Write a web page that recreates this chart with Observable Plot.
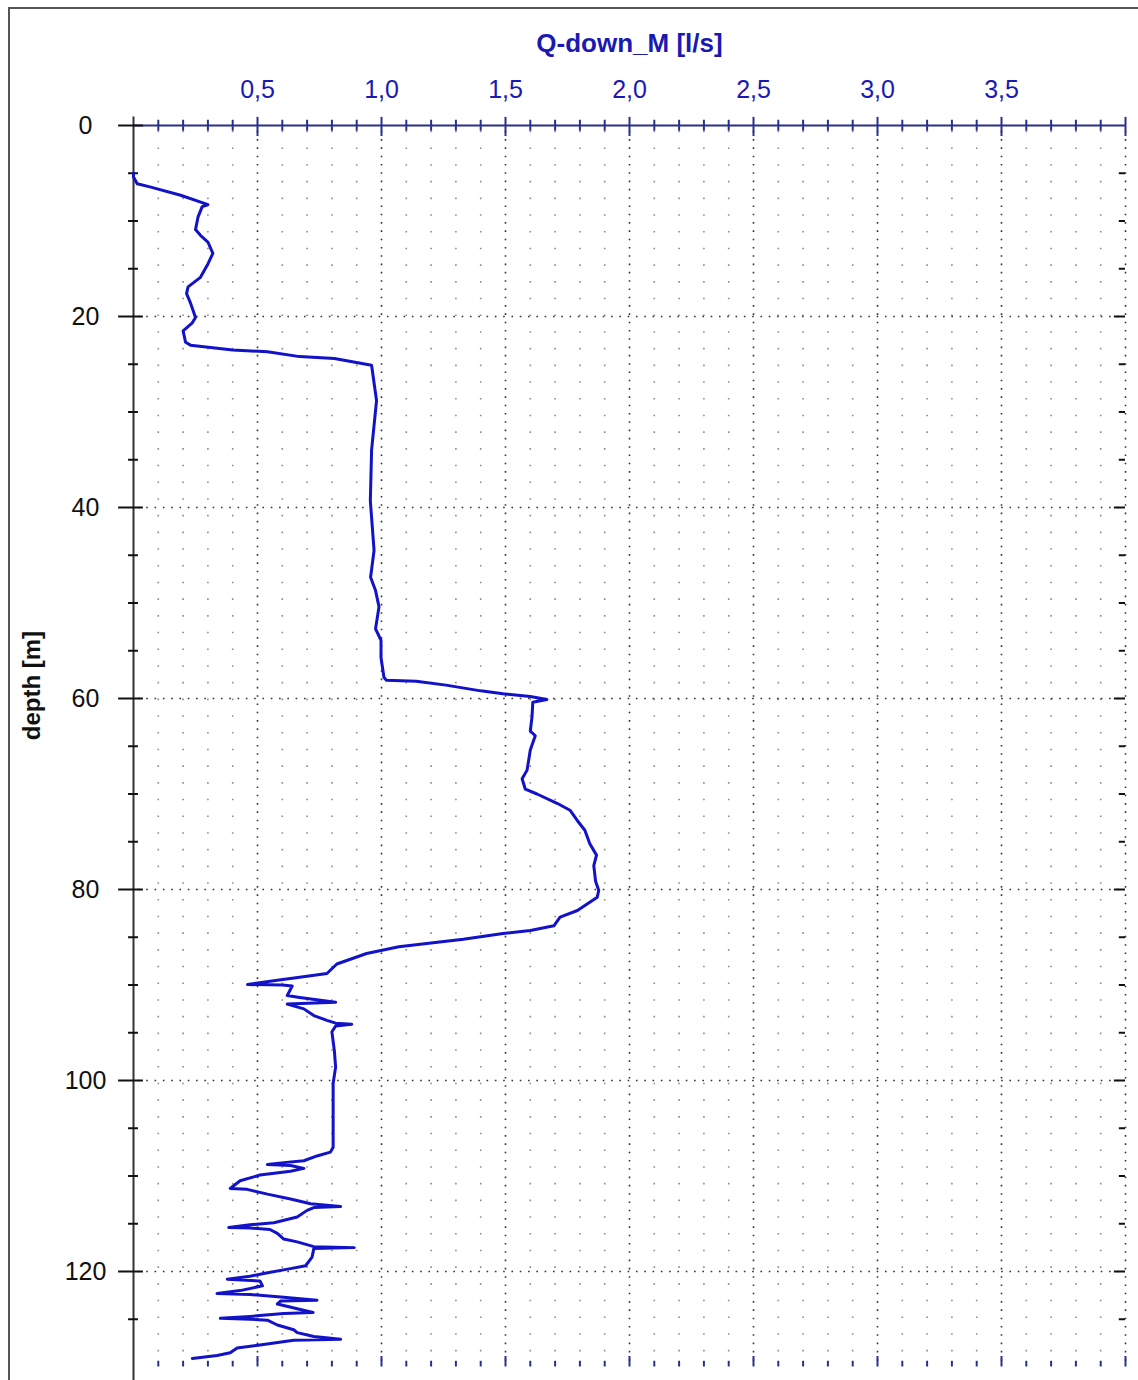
<!DOCTYPE html>
<html><head><meta charset="utf-8">
<script src="https://cdn.jsdelivr.net/npm/d3@7"></script>
<script src="https://cdn.jsdelivr.net/npm/@observablehq/plot@0.6"></script>
<style>
html,body{margin:0;padding:0;background:#fff;}
#wrap{position:relative;width:1138px;height:1380px;overflow:hidden;}
#border{position:absolute;left:8px;top:7px;width:1150px;height:1400px;border:2px solid #555;box-sizing:border-box;}
#chart{position:absolute;left:0;top:0;}
</style></head><body>
<div id="wrap"><div id="border"></div><div id="chart"></div></div>
<script>
// depth [m] along the log, in drawing order
const depth = [5.0, 5.4, 6.1, 6.45, 7.3, 8.1, 8.3, 8.5, 9.6, 10.9, 11.5, 12.2, 13.4, 14.5, 15.9, 16.9, 17.6, 18.6, 20.1, 20.7, 21.5, 22.7, 23.0, 23.5, 23.7, 24.2, 24.4, 25.1,
  28.8, 34.0, 39.3, 44.5, 47.3, 48.7, 50.4, 52.7, 53.9, 55.7, 57.8, 58.1, 58.2, 58.6, 59.2, 59.5, 59.8, 60.1, 60.4, 61.9, 63.4, 63.9, 65.4,
  67.5, 68.4, 69.5, 70.0, 71.0, 71.7, 72.8, 73.8, 75.2, 76.4, 77.5, 79.1, 80.1, 80.8, 82.2, 82.9, 83.8, 84.3, 84.6, 85.2, 85.6, 86.0, 86.7,
  87.8, 88.8, 89.2, 89.5, 89.95, 90.0, 90.1, 90.6, 91.1, 91.3, 91.8, 92.0, 92.5, 93.2, 93.7, 94.0, 94.1, 94.3, 94.9, 96.9, 98.6, 100.3,
  102.1, 107.0, 107.5, 107.9, 108.4, 108.6, 108.8, 108.9, 109.2, 109.5, 109.9, 110.5, 111.1, 111.3, 111.4, 111.9, 112.4, 112.9, 113.2,
  113.3, 113.6, 114.3, 114.9, 115.1, 115.4, 115.45, 115.6, 116.0, 116.6, 116.9, 117.4, 117.5, 117.6, 118.5, 119.4, 119.7, 120.2, 120.5,
  120.8, 121.0, 121.5, 122.0, 122.3, 122.4, 122.7, 123.0, 123.1, 123.4, 123.9, 124.3, 124.4, 124.7, 124.9, 125.0, 125.1, 125.6, 126.1,
  126.4, 126.8, 127.1, 127.2, 127.7, 128.0, 128.5, 128.8, 129.1];
// Q-down_M [l/s]
const flow = [0.0, 0.0, 0.015, 0.07, 0.19, 0.28, 0.30, 0.277, 0.26, 0.25, 0.27, 0.30, 0.32, 0.30, 0.27, 0.22, 0.214, 0.23, 0.25, 0.236, 0.20, 0.21, 0.23, 0.40, 0.54, 0.67, 0.81, 0.96,
  0.98, 0.96, 0.955, 0.97, 0.956, 0.976, 0.99, 0.976, 0.998, 0.998, 1.01, 1.02, 1.14, 1.26, 1.40, 1.49, 1.60, 1.667, 1.61, 1.607, 1.60, 1.62, 1.60,
  1.587, 1.567, 1.58, 1.627, 1.71, 1.76, 1.79, 1.82, 1.84, 1.867, 1.856, 1.863, 1.876, 1.87, 1.79, 1.72, 1.695, 1.60, 1.49, 1.33, 1.20, 1.07, 0.94,
  0.82, 0.78, 0.67, 0.58, 0.46, 0.60, 0.64, 0.63, 0.62, 0.67, 0.815, 0.62, 0.687, 0.727, 0.78, 0.815, 0.88, 0.815, 0.80, 0.81, 0.815, 0.805,
  0.805, 0.805, 0.794, 0.74, 0.687, 0.606, 0.54, 0.633, 0.687, 0.633, 0.51, 0.43, 0.40, 0.39, 0.458, 0.54, 0.633, 0.714, 0.835,
  0.727, 0.70, 0.66, 0.566, 0.47, 0.384, 0.47, 0.55, 0.58, 0.606, 0.66, 0.727, 0.89, 0.727, 0.72, 0.694, 0.633, 0.525, 0.47,
  0.378, 0.51, 0.52, 0.43, 0.337, 0.47, 0.606, 0.74, 0.593, 0.58, 0.66, 0.724, 0.606, 0.47, 0.35, 0.47, 0.54, 0.58, 0.646,
  0.66, 0.727, 0.835, 0.646, 0.51, 0.418, 0.39, 0.337, 0.237];

const xLabelTicks = [0.5, 1.0, 1.5, 2.0, 2.5, 3.0, 3.5];
const xMajorTicks = [0.5, 1.0, 1.5, 2.0, 2.5, 3.0, 3.5, 4.0];
const xMinorTicks = d3.range(1, 40).map(i => i / 10).filter(v => Math.round(v * 10) % 5 !== 0);
const depthLabelTicks = [0, 20, 40, 60, 80, 100, 120];
const depthMinorTicks = d3.range(5, 130, 5).filter(v => v % 20 !== 0);
const depthGrid = [20, 40, 60, 80, 100, 120];
const xTitle = "Q-down_M [l/s]";
const yTitle = "depth [m]";

const data = depth.map((d, i) => ({depth: d, q: flow[i]}));

const BLUE_TEXT = "#1a1ab2";
const NAVY = "#28308f";
const LINE = "#1212c8";
const font = "'Liberation Sans', Arial, Helvetica, sans-serif";

const chart = Plot.plot({
  width: 1138, height: 1380,
  marginLeft: 133, marginRight: 13, marginTop: 125, marginBottom: 13.5,
  x: {domain: [0, 4], axis: null},
  y: {domain: [0, 130], reverse: true, axis: null},
  style: {fontFamily: font, background: "transparent", overflow: "visible"},
  marks: [
    // dotted grid
    Plot.ruleX(xMinorTicks, {x: d => d, y1: 0.6, y2: 130, stroke: "#8c8c8c", strokeWidth: 1.6, strokeDasharray: "1.6 15.1"}),
    Plot.ruleX(xMajorTicks, {x: d => d, y1: 0.6, y2: 130, stroke: "#333", strokeWidth: 1.6, strokeDasharray: "1.6 6.7"}),
    Plot.ruleY(depthGrid, {y: d => d, x1: 0.02, x2: 4, stroke: "#333", strokeWidth: 1.6, strokeDasharray: "1.6 6.7"}),
    // top axis
    Plot.ruleY([0], {y: d => d, x1: 0, x2: 4, stroke: NAVY, strokeWidth: 2}),
    Plot.ruleX(xMajorTicks, {x: d => d, y1: -0.85, y2: 1.15, stroke: NAVY, strokeWidth: 2}),
    Plot.ruleX(xMinorTicks, {x: d => d, y1: -0.55, y2: 0.6, stroke: NAVY, strokeWidth: 2}),
    // bottom ticks
    Plot.ruleX(xMajorTicks, {x: d => d, y1: 128.9, y2: 130, stroke: NAVY, strokeWidth: 2}),
    Plot.ruleX(xMinorTicks, {x: d => d, y1: 129.4, y2: 130, stroke: NAVY, strokeWidth: 2}),
    // left axis
    Plot.ruleX([0], {x: d => d, y1: -0.9, y2: 131.5, stroke: "#333", strokeWidth: 2}),
    Plot.ruleY(depthLabelTicks, {y: d => d, x1: -0.06, x2: 0.04, stroke: "#111", strokeWidth: 2}),
    Plot.ruleY(depthMinorTicks, {y: d => d, x1: -0.02, x2: 0.02, stroke: "#111", strokeWidth: 2}),
    // right ticks
    Plot.ruleY(depthGrid, {y: d => d, x1: 3.955, x2: 4, stroke: "#111", strokeWidth: 2}),
    Plot.ruleY(depthMinorTicks, {y: d => d, x1: 3.975, x2: 4, stroke: "#111", strokeWidth: 2}),
    // tick labels
    Plot.axisX({anchor: "top", ticks: xLabelTicks, tickSize: 0, tickPadding: 28, tickFormat: d => d.toFixed(1).replace(".", ","), fontSize: 25, color: BLUE_TEXT, label: null}),
    Plot.axisY({anchor: "left", ticks: depthLabelTicks, tickSize: 0, tickPadding: 48, textAnchor: "middle", tickFormat: d => String(d), fontSize: 25, color: "#111", label: null}),
    // titles
    Plot.text([xTitle], {frameAnchor: "top", dy: -82, lineAnchor: "middle", fontSize: 26, fontWeight: "bold", fill: BLUE_TEXT}),
    Plot.text([yTitle], {frameAnchor: "left", dx: -101, dy: -6, rotate: -90, lineAnchor: "middle", fontSize: 24, fontWeight: "bold", fill: "#111"}),
    // data line
    Plot.line(data, {x: "q", y: "depth", stroke: LINE, strokeWidth: 3, strokeLinejoin: "round"})
  ]
});
document.getElementById("chart").appendChild(chart);
</script>
</body></html>
